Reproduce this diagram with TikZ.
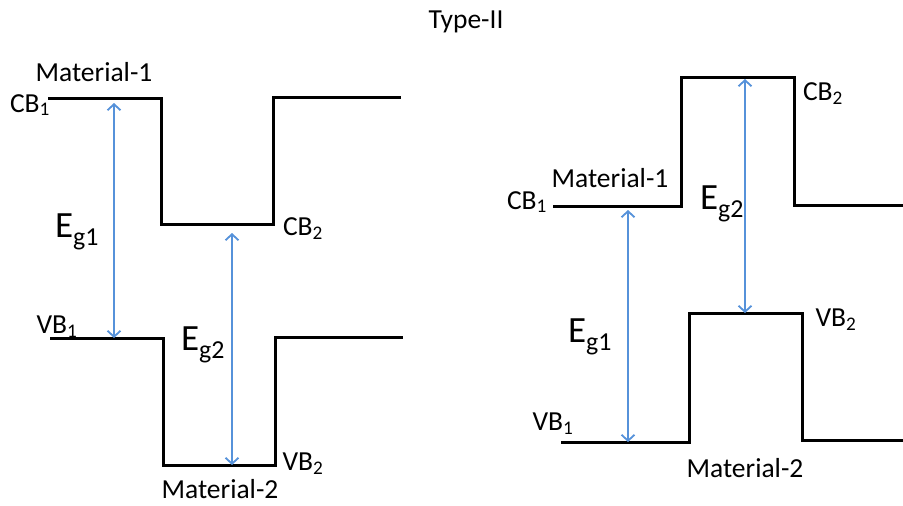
\documentclass[tikz,border=0pt]{standalone}
\usepackage{fontspec}
\setmainfont{Carlito}
\usetikzlibrary{arrows.meta,positioning}
\definecolor{BandBlue}{RGB}{86,146,218}
\tikzset{
  band/.style={line width=3pt,draw=black,line join=miter},
  gap/.style={{Straight Barb[length=6pt,width=13pt,line width=1.8pt]}-{Straight Barb[length=6pt,width=13pt,line width=1.8pt]},line width=2.2pt,draw=BandBlue},
  lbl/.style={font=\fontsize{27.5}{32}\selectfont,inner sep=1pt},
  eg/.style={font=\fontsize{37}{43}\selectfont,inner sep=1pt}
}
\begin{document}
\begin{tikzpicture}[x=1pt,y=-1pt]
  \useasboundingbox (0,0) rectangle (903,506);
  \node[lbl] (title) at (466,22) {Type-II};
  % left junction
  \coordinate (lc1) at (114,103); \coordinate (lv1) at (114,338);
  \coordinate (lc2) at (232,233); \coordinate (lv2) at (232,465);
  \draw[band] (48,98) -- (161,98) -- (161,224) -- (273,224) -- (273,97) -- (401,97);
  \draw[band] (50,338) -- (163,338) -- (163,465) -- (275,465) -- (275,337) -- (403,337);
  \draw[gap] (lc1) -- (lv1);
  \draw[gap] (lc2) -- (lv2);
  \node[lbl] (lm1) at (94,72) {Material-1};
  \node[lbl] (lcb1) at (30,105) {CB\textsubscript{1}};
  \node[lbl] (lcb2) at (303,229) {CB\textsubscript{2}};
  \node[lbl] (lvb1) at (57,327) {VB\textsubscript{1}};
  \node[lbl] (lvb2) at (303,464) {VB\textsubscript{2}};
  \node[lbl] (lm2) at (220,489) {Material-2};
  \node[eg] (leg1) at (77,232) {E\textsubscript{g1}};
  \node[eg] (leg2) at (203,345) {E\textsubscript{g2}};
  % right junction
  \coordinate (rc1) at (628,210); \coordinate (rv1) at (628,442);
  \coordinate (rc2) at (745,79); \coordinate (rv2) at (745,313);
  \draw[band] (553,206) -- (681,206) -- (681,77) -- (794,77) -- (794,205) -- (903,205);
  \draw[band] (561,442) -- (689,442) -- (689,313) -- (802,313) -- (802,440) -- (903,440);
  \draw[gap] (rc1) -- (rv1);
  \draw[gap] (rc2) -- (rv2);
  \node[lbl] (rm1) at (610,178) {Material-1};
  \node[lbl] (rcb1) at (527,202) {CB\textsubscript{1}};
  \node[lbl] (rcb2) at (823,94) {CB\textsubscript{2}};
  \node[lbl] (rvb1) at (553,424) {VB\textsubscript{1}};
  \node[lbl] (rvb2) at (836,320) {VB\textsubscript{2}};
  \node[lbl] (rm2) at (745,468) {Material-2};
  \node[eg] (reg1) at (590,337) {E\textsubscript{g1}};
  \node[eg] (reg2) at (722,204) {E\textsubscript{g2}};
\end{tikzpicture}
\end{document}
